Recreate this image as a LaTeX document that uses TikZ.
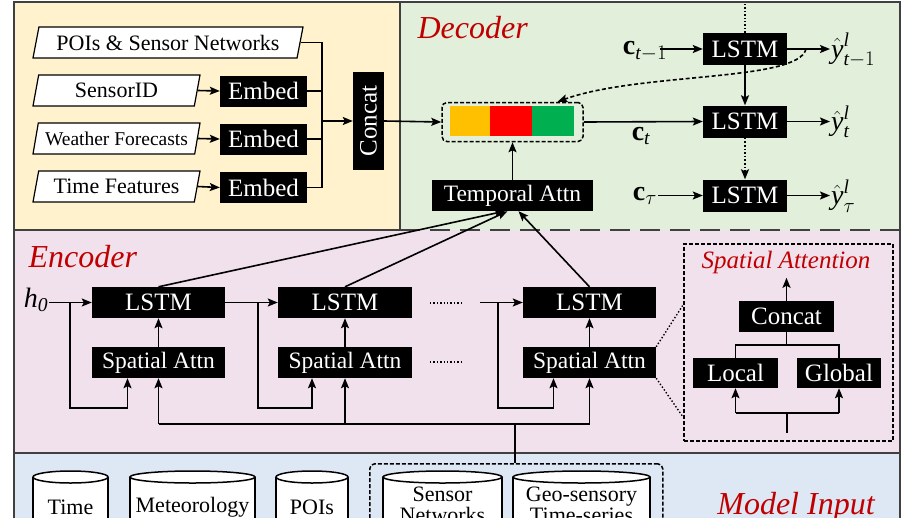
\documentclass[tikz,border=0pt]{standalone}
\usepackage{amsmath}
\usepackage{fontspec}
\setmainfont{Liberation Serif}
\usetikzlibrary{arrows.meta,shapes.geometric,calc}
\newcommand\fsz[1]{\fontsize{#1}{#1}\selectfont}
\definecolor{cream}{HTML}{FFF2CC}
\definecolor{lgreen}{HTML}{E2EFDA}
\definecolor{lpink}{HTML}{F1E1EC}
\definecolor{lblue}{HTML}{DDE8F4}
\definecolor{dred}{HTML}{C00000}
\definecolor{orangeb}{HTML}{FFC000}
\definecolor{redb}{HTML}{FF0000}
\definecolor{greenb}{HTML}{00B050}
\definecolor{framec}{HTML}{404040}
\newcommand\cyl[2]{%
  \fill[white] ({#1-#2},477) rectangle ({#1+#2},540);
  \draw[line width=1.5pt] ({#1-#2},477) -- ({#1-#2},540) ({#1+#2},477) -- ({#1+#2},540);
  \draw[line width=1.5pt,fill=white] (#1,477) ellipse ({#2pt} and 6pt);
}
\tikzset{
  blk/.style={fill=black,text=white,inner sep=0pt,minimum height=31pt},
  para/.style={trapezium,trapezium left angle=69,trapezium right angle=111,
    trapezium stretches body=true,draw,fill=white,inner sep=0pt,
    minimum height=31pt,line width=1.2pt},
  lbl/.style={text=dred,font=\fsz{32}\itshape},
  conn/.style={-{Stealth[length=10pt,width=8pt,inset=2pt]},line width=1.6pt},
  ln/.style={line width=1.6pt},
  frame/.style={draw=framec,line width=2pt},
  dbox/.style={draw,line width=1.5pt,dash pattern=on 4pt off 2pt},
  dots/.style={dotted,line width=1.4pt},
}
\begin{document}
\begin{tikzpicture}[x=1pt,y=-1pt]
\useasboundingbox (0,0) rectangle (918,517);
\begin{scope}
\clip (0,0) rectangle (918,517);
% regions
\fill[cream] (14,2) rectangle (400,230);
\fill[lgreen] (400,2) rectangle (900,230);
\fill[lpink] (14,230) rectangle (900,453);
\fill[lblue] (14,453) rectangle (900,560);
\draw[frame] (14,2) rectangle (900,560);
\draw[frame] (400,2) -- (400,230);
\draw[frame] (14,230) -- (400,230);
\draw[frame,dash pattern=on 20pt off 10pt] (400,230) -- (900,230);
\draw[frame] (14,453) -- (900,453);

% ---------- input features ----------
\node[para,minimum width=270pt,font=\fsz{22}] (poi) at (168,42.5) {POIs \& Sensor Networks};
\node[para,minimum width=167pt,font=\fsz{22}] (sid) at (116.5,90.5) {SensorID};
\node[para,minimum width=167pt,font=\fsz{19.5}] (wf) at (116.5,138.5) {Weather Forecasts};
\node[para,minimum width=167pt,font=\fsz{22}] (tf) at (116.5,186.5) {Time Features};
\node[blk,minimum width=87pt,font=\fsz{25}] (e1) at (263.5,91) {Embed};
\node[blk,minimum width=87pt,font=\fsz{25}] (e2) at (263.5,139) {Embed};
\node[blk,minimum width=87pt,font=\fsz{25}] (e3) at (263.5,187.5) {Embed};
\node[blk,minimum width=31pt,minimum height=98pt,font=\fsz{25}] (cc) at (368.5,121) {\rotatebox{90}{Concat}};
\draw[conn] (sid.east) -- (e1.west);
\draw[conn] (wf.east) -- (e2.west);
\draw[conn] (tf.east) -- (e3.west);
\coordinate (jx) at (322,121);
\draw[ln] (poi.east) -- (poi.east -| jx) -- (e3.east -| jx) -- (e3.east);
\draw[ln] (e1.east) -- (e1.east -| jx);
\draw[ln] (e2.east) -- (e2.east -| jx);
\draw[conn] (jx) -- (cc.west);

% ---------- decoder ----------
\node[lbl,anchor=west] (dec) at (414,28) {Decoder};
\fill[orangeb] (450,106) rectangle (490,136);
\fill[redb] (490,106) rectangle (532,136);
\fill[greenb] (532,106) rectangle (574,136);
\node[dbox,rounded corners=5pt,minimum width=141pt,minimum height=39pt] (bar) at (512.5,122) {};
\draw[conn] (cc.east) -- (bar.west);
\node[blk,minimum width=161pt,font=\fsz{23.5}] (ta) at (512.5,195.5) {Temporal Attn};
\draw[conn] (ta.north) -- (bar.south);

\node[blk,minimum width=84pt,minimum height=32pt,font=\fsz{25}] (dl1) at (745,49) {LSTM};
\node[blk,minimum width=84pt,minimum height=32pt,font=\fsz{25}] (dl2) at (745,121.5) {LSTM};
\node[blk,minimum width=84pt,minimum height=32pt,font=\fsz{25}] (dl3) at (745,195.5) {LSTM};
\node[font=\fsz{28},inner sep=1pt] (ct1) at (645,51) {$\textbf{c}_{\textit{t}-1}$};
\node[font=\fsz{28},inner sep=1pt] (ct) at (641,136) {$\textbf{c}_{\textit{t}}$};
\node[font=\fsz{28},inner sep=1pt] (ctau) at (645,196) {$\textbf{c}_{\tau}$};
\node[font=\fsz{28},inner sep=1pt,anchor=west] (y1) at (830,50) {$\hat{\textit{y}}^{\textit{l}}_{\textit{t}-1}$};
\node[font=\fsz{28},inner sep=1pt,anchor=west] (y2) at (830,122) {$\hat{\textit{y}}^{\textit{l}}_{\textit{t}}$};
\node[font=\fsz{28},inner sep=1pt,anchor=west] (y3) at (830,196) {$\hat{\textit{y}}^{\textit{l}}_{\tau}$};
\draw[conn] ([xshift=-8pt]ct1.east |- dl1.west) -- (dl1.west);
\draw[conn] (bar.east) -- (dl2.west);
\draw[conn] (ctau.east |- dl3.west) -- (dl3.west);
\draw[conn] (dl1.east) -- (y1.west |- dl1.east);
\draw[conn] (dl2.east) -- (y2.west |- dl2.east);
\draw[conn] (dl3.east) -- (y3.west |- dl3.east);
\draw[dots] (745,4) -- (dl1.north);
\draw[conn] (dl1.south) -- (dl2.north);
\draw[conn,dotted] (dl2.south) -- (dl3.north);
\coordinate (cs) at (806,49);
\draw[conn,dash pattern=on 4pt off 2.5pt] (cs) .. controls (798,82) and (640,72) .. ([xshift=45pt]bar.north);

% ---------- encoder ----------
\node[lbl,anchor=west] (enc) at (25,257) {Encoder};
\node[font=\fsz{28},inner sep=1pt] (h0) at (36,300) {$\textit{h}_{\textit{0}}$};
\node[blk,minimum width=133pt,font=\fsz{25}] (l1) at (158.5,302.5) {LSTM};
\node[blk,minimum width=133pt,font=\fsz{23.5}] (sa1) at (158.5,362.5) {Spatial Attn};
\node[blk,minimum width=134pt,font=\fsz{25}] (l2) at (345,302.5) {LSTM};
\node[blk,minimum width=134pt,font=\fsz{23.5}] (sa2) at (345,362.5) {Spatial Attn};
\node[blk,minimum width=133pt,font=\fsz{25}] (l3) at (589.5,302.5) {LSTM};
\node[blk,minimum width=133pt,font=\fsz{23.5}] (sa3) at (589.5,362.5) {Spatial Attn};
\draw[dots] (430,303) -- (463,303);
\draw[dots] (430,362) -- (463,362);

\draw[conn] (h0.east |- l1.west) -- (l1.west);
\coordinate (b1) at (70,302.5);
\draw[conn] (b1) -- ++(0,105.5) -| ([xshift=-31pt]sa1.south);
\draw[conn] (l1.east) -- (l2.west);
\coordinate (b2) at (258,302.5);
\draw[conn] (b2) -- ++(0,105.5) -| ([xshift=-33pt]sa2.south);
\coordinate (s3) at (480,302.5);
\draw[conn] (s3) -- (l3.west);
\coordinate (b3) at (498,302.5);
\draw[conn] (b3) -- ++(0,105.5) -| ([xshift=-36pt]sa3.south);
\draw[conn] (sa1.north) -- (l1.south);
\draw[conn] (sa2.north) -- (l2.south);
\draw[conn] (sa3.north) -- (l3.south);
\coordinate (bus) at (0,424);
\draw[ln] (sa1.south |- bus) -- (sa3.south |- bus);
\draw[conn] (sa1.south |- bus) -- (sa1.south);
\draw[conn] (sa2.south |- bus) -- (sa2.south);
\draw[conn] (sa3.south |- bus) -- (sa3.south);
\draw[conn] (l1.north) -- ([xshift=-8pt]ta.south);
\draw[conn] (l2.north) -- ([xshift=-5pt]ta.south);
\draw[conn] (l3.north) -- ([xshift=6pt]ta.south);

% spatial attention detail
\node[dbox,minimum width=209pt,minimum height=197pt,anchor=north west] (sab) at (683,243) {};
\node[text=dred,font=\fsz{25}\itshape] (sat) at (786,262) {Spatial Attention};
\node[blk,minimum width=95pt,font=\fsz{25}] (sc) at (786.5,316.5) {Concat};
\node[blk,minimum width=85pt,minimum height=30pt,font=\fsz{25}] (lo) at (735.5,373) {Local};
\node[blk,minimum width=84pt,minimum height=30pt,font=\fsz{25}] (gl) at (839,373) {Global};
\draw[conn] (sc.north) -- ++(0,-23);
\draw[ln] (sc.south) -- ++(0,13) coordinate (sj);
\draw[ln] (lo.north) |- (sj) -| (gl.north);
\coordinate (sb) at (787,433);
\draw[ln] (sb) -- ++(0,-20) coordinate (sbj);
\draw[ln] (sbj -| lo.south) -- (sbj -| gl.south);
\draw[conn] (sbj -| lo.south) -- (lo.south);
\draw[conn] (sbj -| gl.south) -- (gl.south);
\draw[dots] (sa3.north east) -- ($(sab.north west)+(0,62)$);
\draw[dots] (sa3.south east) -- ($(sab.north west)+(0,174)$);

% ---------- model input ----------
\node[dbox,rounded corners=5pt,minimum width=293pt,minimum height=100pt,anchor=north west] (mi) at (369,463) {};
\coordinate (bj) at (515,424);
\draw[ln] (bj) -- (bj |- mi.north);
\cyl{70.5}{37.5}
\cyl{192.5}{62.5}
\cyl{312}{36}
\cyl{442.5}{59.5}
\cyl{581.5}{68.5}
\node[font=\fsz{22}] (t1) at (70.5,507) {Time};
\node[font=\fsz{22}] (t2) at (192.5,507) {Meteorology};
\node[font=\fsz{22}] (t3) at (312,507) {POIs};
\node[font=\fsz{22},align=center] (t4) at (442.5,505) {Sensor\\[-1pt]Networks};
\node[font=\fsz{22},align=center] (t5) at (581.5,505) {Geo-sensory\\[-1pt]Time-series};
\node[lbl] (mit) at (796,507) {Model Input};
\end{scope}
\end{tikzpicture}
\end{document}
